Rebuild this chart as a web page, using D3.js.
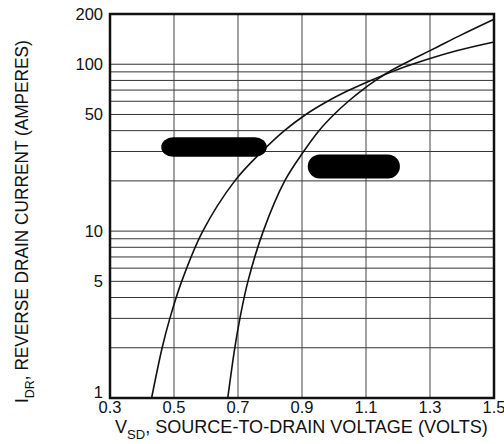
<!DOCTYPE html>
<html>
<head>
<meta charset="utf-8">
<script src="https://cdn.jsdelivr.net/npm/d3@7"></script>
<style>
  body { margin: 0; background: #fff; }
  text { font-family: "Liberation Sans", Arial, Helvetica, sans-serif; fill: #111; }
</style>
</head>
<body>
<svg id="chart" width="504" height="444"></svg>
<script>
// values (V in volts, I in amperes)
var vsdA = [0.43, 0.463, 0.487, 0.524, 0.59, 0.69, 0.775, 0.845, 0.912, 0.98, 1.048, 1.115, 1.18, 1.245, 1.38, 1.5];
var idrA = [1, 2, 3, 5, 10, 20, 30, 40, 50, 60, 70, 80, 90, 100, 120, 136];
var vsdB = [0.668, 0.69, 0.706, 0.731, 0.779, 0.846, 0.905, 0.953, 1.0, 1.045, 1.088, 1.13, 1.18, 1.258, 1.323, 1.398, 1.5];
var idrB = [1, 2, 3, 5, 10, 20, 30, 40, 50, 60, 70, 80, 92, 110, 127, 150, 186];

var xTicks = [0.3, 0.5, 0.7, 0.9, 1.1, 1.3, 1.5];
var yTicks = [1, 5, 10, 50, 100, 200];
var yGrid = [2, 3, 4, 5, 6, 7, 8, 9, 10, 20, 30, 40, 50, 60, 70, 80, 90, 100];

// blacked-out label boxes, in data units
var boxV0 = [0.46, 0.918];
var boxV1 = [0.79, 1.206];
var boxI0 = [27.9, 20.7];
var boxI1 = [36.5, 28.8];

var svg = d3.select("#chart");
var margin = {left: 110, right: 10, top: 14, bottom: 46};
var width = 504 - margin.left - margin.right,
    height = 444 - margin.top - margin.bottom;

var x = d3.scaleLinear().domain([0.3, 1.5]).range([0, width]);
var y = d3.scaleLog().domain([1, 200]).range([height, 0]);

var g = svg.append("g")
    .attr("transform", `translate(${margin.left},${margin.top})`);

// grid
g.append("g")
    .attr("stroke", "#333")
    .attr("stroke-width", 1)
    .selectAll("line")
    .data(yGrid)
    .join("line")
    .attr("x1", 0).attr("x2", width)
    .attr("y1", d => y(d)).attr("y2", d => y(d));

g.append("g")
    .attr("stroke", "#444")
    .attr("stroke-width", 1)
    .selectAll("line")
    .data(xTicks.slice(1, -1))
    .join("line")
    .attr("y1", 0).attr("y2", height)
    .attr("x1", d => x(d)).attr("x2", d => x(d));

// curves
var line = d3.line()
    .x(d => x(d[0]))
    .y(d => y(d[1]))
    .curve(d3.curveCatmullRom.alpha(0.5));

var curves = [d3.zip(vsdA, idrA), d3.zip(vsdB, idrB)];

g.append("g")
    .attr("fill", "none")
    .attr("stroke", "#111")
    .attr("stroke-width", 1.6)
    .selectAll("path")
    .data(curves)
    .join("path")
    .attr("d", line);

// redaction boxes
g.append("g")
    .selectAll("rect")
    .data(d3.range(boxV0.length))
    .join("rect")
    .attr("x", i => x(boxV0[i]))
    .attr("width", i => x(boxV1[i]) - x(boxV0[i]))
    .attr("y", i => y(boxI1[i]))
    .attr("height", i => y(boxI0[i]) - y(boxI1[i]))
    .attr("rx", 12)
    .attr("fill", "#000");

// frame
g.append("rect")
    .attr("width", width)
    .attr("height", height)
    .attr("fill", "none")
    .attr("stroke", "#111")
    .attr("stroke-width", 2.5);

// tick labels
g.append("g")
    .selectAll("text")
    .data(xTicks)
    .join("text")
    .attr("x", d => x(d))
    .attr("y", height + 15)
    .attr("text-anchor", "middle")
    .style("font-size", "16.5px")
    .text(d => d3.format(".1f")(d));

g.append("g")
    .selectAll("text")
    .data(yTicks)
    .join("text")
    .attr("x", -7)
    .attr("y", d => y(d) - (d === 1 ? 6 : 0))
    .attr("dy", ".35em")
    .attr("text-anchor", "end")
    .style("font-size", "16.5px")
    .text(d => d);

// axis titles, squeezed to the reference width
function title(parent, main, sub, rest, target) {
    var t = parent.append("text").style("font-size", "18px");
    t.append("tspan").text(main);
    t.append("tspan").attr("dy", 6).style("font-size", "13px").text(sub);
    t.append("tspan").attr("dy", -6).text(rest);
    var w = t.node().getComputedTextLength();
    t.attr("transform", `scale(${target / w},1)`);
}

title(svg.append("g").attr("transform", "translate(115,433)"),
    "V", "SD", ", SOURCE-TO-DRAIN VOLTAGE (VOLTS)", 373);

title(svg.append("g").attr("transform", "translate(28,403) rotate(-90)"),
    "I", "DR", ", REVERSE DRAIN CURRENT (AMPERES)", 363);
</script>
</body>
</html>
